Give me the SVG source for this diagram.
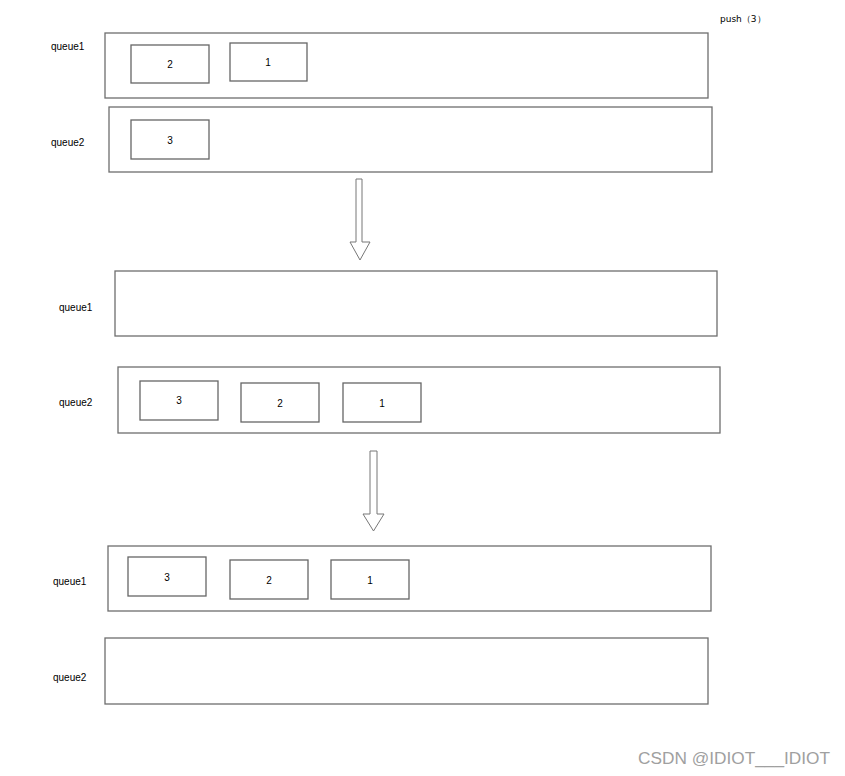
<svg xmlns="http://www.w3.org/2000/svg" width="845" height="776" viewBox="0 0 845 776">
<style>
.q{fill:#fff;stroke:#6e6e6e;stroke-width:1.3}
.b{fill:#fff;stroke:#666;stroke-width:1.3}
.t{font-family:"Liberation Sans",Arial,sans-serif;font-size:10px;fill:#000}
.n{font-family:"Liberation Sans",Arial,sans-serif;font-size:10px;fill:#000;text-anchor:middle}
.a{fill:#fff;stroke:#777;stroke-width:1}
</style>
<rect width="845" height="776" fill="#fff"/>
<text class="t" x="720" y="22" style="font-family:'DejaVu Sans',sans-serif;font-size:9px">push（3）</text>
<g id="s1-queue1">
<text class="t" x="51" y="50">queue1</text>
<rect class="q" x="105" y="33" width="603" height="65"/>
<g id="s1-q1-2"><rect class="b" x="131" y="45" width="78" height="38"/><text class="n" x="170" y="68">2</text></g>
<g id="s1-q1-1"><rect class="b" x="230" y="43" width="77" height="38"/><text class="n" x="268" y="66">1</text></g>
</g>
<g id="s1-queue2">
<text class="t" x="51" y="146">queue2</text>
<rect class="q" x="109" y="107" width="603" height="65"/>
<g id="s1-q2-3"><rect class="b" x="131" y="120" width="78" height="39"/><text class="n" x="170" y="144">3</text></g>
</g>
<g id="s2-queue1">
<text class="t" x="59" y="311">queue1</text>
<rect class="q" x="115" y="271" width="602" height="65"/>
</g>
<g id="s2-queue2">
<text class="t" x="59" y="406">queue2</text>
<rect class="q" x="118" y="367" width="602" height="66"/>
<g id="s2-q2-3"><rect class="b" x="140" y="381" width="78" height="39"/><text class="n" x="179" y="404">3</text></g>
<g id="s2-q2-2"><rect class="b" x="241" y="383" width="78" height="39"/><text class="n" x="280" y="407">2</text></g>
<g id="s2-q2-1"><rect class="b" x="343" y="383" width="78" height="39"/><text class="n" x="382" y="407">1</text></g>
</g>
<g id="s3-queue1">
<text class="t" x="53" y="585">queue1</text>
<rect class="q" x="108" y="546" width="603" height="65"/>
<g id="s3-q1-3"><rect class="b" x="128" y="557" width="78" height="39"/><text class="n" x="167" y="581">3</text></g>
<g id="s3-q1-2"><rect class="b" x="230" y="560" width="78" height="39"/><text class="n" x="269" y="584">2</text></g>
<g id="s3-q1-1"><rect class="b" x="331" y="560" width="78" height="39"/><text class="n" x="370" y="584">1</text></g>
</g>
<g id="s3-queue2">
<text class="t" x="53" y="681">queue2</text>
<rect class="q" x="105" y="638" width="603" height="66"/>
</g>
<g id="connectors">
<polygon class="a" points="356,179 362,179 362,242 370,242 360,260 350,242 356,242"/>
<polygon class="a" points="370,451 377,451 377,514 384,514 373.5,531 363,514 370,514"/>
</g>
<text x="638" y="764" textLength="192" lengthAdjust="spacingAndGlyphs" style="font-family:'Liberation Sans',Arial,sans-serif;font-size:16px;fill:#a0a0a0">CSDN @IDIOT___IDIOT</text>
</svg>
